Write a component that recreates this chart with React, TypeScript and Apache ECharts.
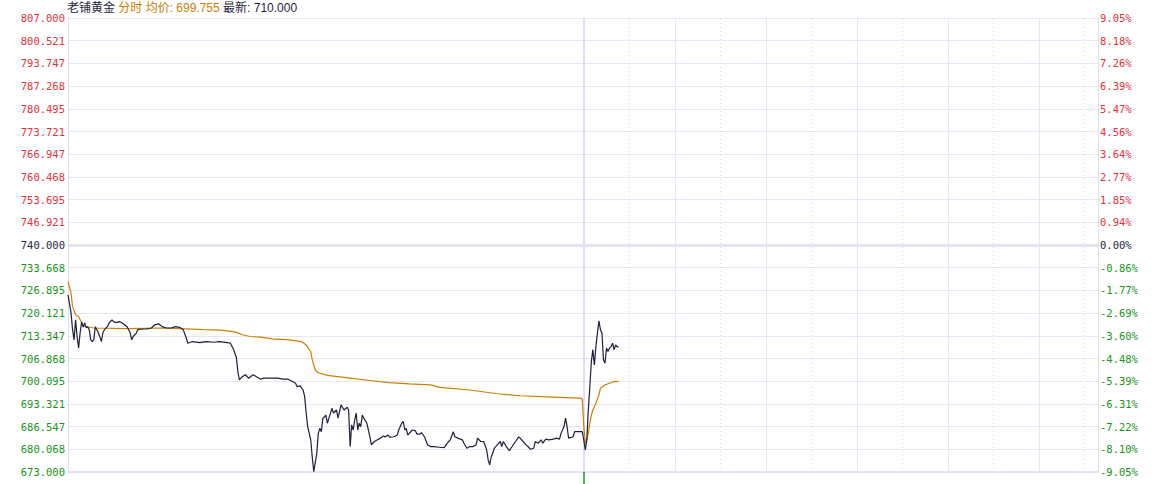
import React, { useEffect, useRef } from "react";
import * as echarts from "echarts";

// ---- header text ----
const stockName = "老铺黄金";
const modeText = "分时";
const avgPriceText = "699.755";
const lastPriceText = "710.000";

// ---- axis labels (top -> bottom) ----
const priceLabels = [
  "807.000", "800.521", "793.747", "787.268", "780.495", "773.721", "766.947",
  "760.468", "753.695", "746.921", "740.000", "733.668", "726.895", "720.121",
  "713.347", "706.868", "700.095", "693.321", "686.547", "680.068", "673.000",
];
const pctLabels = [
  "9.05%", "8.18%", "7.26%", "6.39%", "5.47%", "4.56%", "3.64%", "2.77%",
  "1.85%", "0.94%", "0.00%", "-0.86%", "-1.77%", "-2.69%", "-3.60%", "-4.48%",
  "-5.39%", "-6.31%", "-7.22%", "-8.10%", "-9.05%",
];
const priceMin = 673;
const priceMax = 807;
const prevClose = 740;

// ---- time slots (two sessions, minutes) ----
const slotCount = 680;
const dayBreakSlot = 340;
const solidGridSlots = [400, 460, 520, 580, 640];
const dottedGridSlots = [370, 430, 490, 550, 610, 670];

// ---- price line (slot, price) ----
const priceSlots = [
  0, 2, 3, 4, 5, 6, 7, 8, 9, 10, 11, 12, 13, 14, 15, 16, 17, 18, 20, 21, 22, 23, 24, 26, 27, 29, 30, 32, 34, 36,
  39, 40, 41, 42, 43, 45, 46, 49, 52, 55, 57, 60, 62, 65, 68, 71, 74, 76, 78, 79, 82, 87, 91, 96, 100, 105, 107, 109, 111, 112,
  113, 115, 117, 119, 122, 124, 127, 129, 133, 138, 142, 145, 148, 150, 151, 153, 155, 156, 157, 158, 160, 161, 162, 164, 165, 166, 167, 168, 169, 170,
  171, 172, 174, 175, 177, 178, 180, 182, 184, 185, 186, 187, 188, 189, 190, 191, 192, 193, 194, 195, 197, 198, 199, 200, 202, 204, 206, 208, 209, 211,
  212, 215, 217, 218, 220, 221, 222, 223, 224, 227, 229, 230, 232, 233, 235, 237, 239, 241, 245, 248, 250, 251, 252, 254, 255, 257, 260, 261, 263, 265,
  267, 269, 270, 272, 274, 276, 277, 278, 279, 280, 281, 283, 285, 286, 287, 289, 291, 292, 295, 297, 298, 300, 302, 305, 307, 308, 310, 312, 313, 315,
  317, 320, 322, 324, 325, 327, 328, 329, 330, 333, 334, 336, 339, 340, 341, 342, 343, 344, 345, 346, 347, 348, 349, 350, 351, 352, 353, 354, 355, 356,
  357, 358, 359, 360, 361, 362, 363,
];
const priceValues = [
  725.3, 720.0, 715.0, 712.0, 717.9, 712.9, 709.6, 714.1, 717.3, 715.8, 717.0, 715.6, 715.9, 715.0, 712.0, 711.5, 712.0, 715.9, 714.1, 712.9, 711.5, 714.1, 715.0, 715.9, 716.9, 717.9, 717.4, 717.1, 717.4, 716.9,
  715.9, 715.0, 714.1, 712.0, 713.0, 714.0, 715.0, 715.2, 715.2, 715.5, 716.4, 716.7, 715.9, 715.5, 715.5, 715.9, 715.6, 715.0, 712.5, 711.0, 711.5, 711.2, 711.5, 711.3, 711.5, 711.2, 711.0, 709.3, 706.8, 702.5,
  700.2, 701.2, 701.7, 700.7, 701.7, 701.2, 700.4, 700.7, 700.7, 700.7, 700.4, 700.4, 699.7, 699.2, 698.2, 698.4, 697.2, 695.3, 690.4, 686.4, 682.5, 677.5, 673.1, 678.5, 684.4, 685.9, 684.9, 688.9, 689.2, 689.8,
  687.4, 688.9, 691.8, 690.4, 691.3, 688.9, 692.8, 691.3, 692.1, 691.3, 680.5, 686.9, 685.4, 688.4, 690.4, 685.4, 687.4, 686.4, 689.8, 688.9, 687.4, 685.4, 683.4, 681.0, 682.0, 682.5, 683.0, 683.6, 683.3, 683.9,
  683.3, 683.4, 683.9, 685.4, 687.4, 687.9, 685.4, 685.9, 683.9, 685.4, 685.2, 684.2, 684.2, 684.6, 683.4, 681.0, 680.5, 680.5, 680.3, 680.2, 681.5, 682.0, 682.5, 684.9, 683.4, 683.0, 682.5, 681.5, 680.0, 680.5,
  680.5, 681.0, 683.0, 682.0, 682.0, 679.5, 676.5, 675.1, 677.5, 678.5, 680.0, 681.0, 682.0, 680.5, 682.0, 680.5, 679.3, 680.0, 682.0, 683.3, 683.0, 682.0, 681.0, 679.7, 680.0, 682.0, 681.5, 682.5, 681.5, 682.7,
  682.5, 682.7, 683.0, 682.7, 684.4, 686.4, 688.9, 686.4, 683.0, 683.4, 684.9, 684.9, 684.9, 682.5, 679.5, 682.5, 691.3, 698.2, 705.6, 709.1, 704.6, 710.0, 714.0, 717.6, 715.0, 714.0, 706.1, 705.1, 709.6, 708.6,
  709.6, 710.0, 711.0, 709.1, 710.5, 709.9, 710.0,
];

// ---- average price line (slot, price) ----
const avgSlots = [
  0, 2, 3, 5, 7, 10, 17, 39, 61, 78, 89, 100, 108, 111, 115, 120, 127, 135, 146, 154,
  157, 160, 161, 163, 165, 171, 186, 199, 212, 225, 239, 245, 265, 283, 298, 320, 338, 339, 340, 341,
  342, 343, 344, 345, 346, 348, 350, 351, 354, 357, 360, 363,
];
const avgValues = [
  729.2, 725.8, 721.8, 719.4, 718.9, 716.1, 715.5, 715.3, 715.5, 715.25, 715.0, 714.9, 714.5, 714.2, 713.5, 713.0, 712.8, 712.3, 712.0, 711.5,
  710.5, 708.5, 706.1, 703.1, 702.3, 701.5, 700.7, 700.0, 699.4, 699.0, 698.7, 698.0, 697.2, 696.1, 695.5, 695.1, 694.8, 694.6, 686.6, 681.5,
  682.5, 684.4, 687.4, 689.8, 691.3, 693.3, 695.8, 697.7, 698.7, 699.2, 699.7, 699.755,
];

const MONO = "'DejaVu Sans Mono', 'Noto Sans CJK SC', monospace";
const TITLE_FONT = "'Liberation Sans', 'Noto Sans CJK SC', sans-serif";
const RED = "#e8313a";
const GREEN = "#16951a";
const DARK = "#1e1e3c";
const ORANGE = "#c98000";
const GRID = "#e8e6f4";

function labelColor(idxFromTop: number) {
  if (idxFromTop < 10) return RED;
  if (idxFromTop === 10) return DARK;
  return GREEN;
}

export default function App() {
  const ref = useRef<HTMLDivElement>(null);

  useEffect(() => {
    document.body.style.margin = "0";
    if (!ref.current) return;
    const chart = echarts.init(ref.current, undefined, { renderer: "svg" });

    const priceData = priceSlots.map((s, i) => [s, priceValues[i]]);
    const avgData = avgSlots.map((s, i) => [s, avgValues[i]]);

    const gridLines: any[] = [
      { xAxis: dayBreakSlot, lineStyle: { color: "#e2def2", width: 2, type: "solid" } },
      ...solidGridSlots.map((s) => ({ xAxis: s, lineStyle: { color: GRID, width: 1, type: "solid" } })),
      ...dottedGridSlots.map((s) => ({ xAxis: s, lineStyle: { color: "#dcdce2", width: 1, type: [1, 3] } })),
      { yAxis: prevClose, lineStyle: { color: "#e4e2f3", width: 3, type: "solid" } },
    ];

    const option: any = {
      animation: false,
      title: {
        text: `{n|${stockName}} {o|${modeText} 均价: ${avgPriceText}} {n|最新: ${lastPriceText}}`,
        left: 67,
        top: 1,
        padding: 0,
        textStyle: {
          fontWeight: "normal",
          fontSize: 12,
          rich: {
            n: { color: DARK, fontSize: 12, fontFamily: TITLE_FONT, fontWeight: "normal", lineHeight: 14 },
            o: { color: ORANGE, fontSize: 12, fontFamily: TITLE_FONT, fontWeight: "normal", lineHeight: 14 },
          },
        },
      },
      grid: { left: 68, right: 62, top: 18, bottom: 12, outerBoundsMode: "none", containLabel: false },
      xAxis: {
        type: "value",
        min: 0,
        max: slotCount - 1,
        axisLine: { show: true, onZero: false, lineStyle: { color: "#e4e2f3", width: 2 } },
        axisTick: { show: true, customValues: [dayBreakSlot], length: 12, lineStyle: { color: GREEN, width: 1.5 } },
        axisLabel: { show: false },
        splitLine: { show: false },
      },
      yAxis: [
        { type: "value", min: priceMin, max: priceMax, show: false, position: "left", splitLine: { show: false } },
        {
          type: "value",
          min: 0,
          max: 20,
          interval: 1,
          position: "left",
          axisLine: { show: true, lineStyle: { color: "#e0ddef", width: 1 } },
          axisTick: { show: false },
          splitLine: { show: true, lineStyle: { color: GRID, width: 1 } },
          axisLabel: {
            margin: 3,
            fontSize: 10.5,
            fontFamily: MONO,
            formatter: (v: number) => priceLabels[20 - Math.round(v)],
            color: (v: any) => labelColor(20 - Math.round(Number(v))),
          },
        },
        {
          type: "value",
          min: 0,
          max: 20,
          interval: 1,
          position: "right",
          axisLine: { show: true, lineStyle: { color: "#e0ddef", width: 1 } },
          axisTick: { show: false },
          splitLine: { show: false },
          axisLabel: {
            margin: 2,
            fontSize: 10.5,
            fontFamily: MONO,
            formatter: (v: number) => pctLabels[20 - Math.round(v)],
            color: (v: any) => labelColor(20 - Math.round(Number(v))),
          },
        },
      ],
      series: [
        {
          type: "line",
          name: "price",
          yAxisIndex: 0,
          data: priceData,
          showSymbol: false,
          symbol: "none",
          lineStyle: { color: DARK, width: 1.2 },
          z: 3,
          markLine: {
            z: 1,
            silent: true,
            symbol: "none",
            label: { show: false },
            emphasis: { disabled: true },
            data: gridLines,
          },
        },
        {
          type: "line",
          name: "avg",
          yAxisIndex: 0,
          data: avgData,
          showSymbol: false,
          symbol: "none",
          lineStyle: { color: ORANGE, width: 1.2 },
          z: 2,
        },
      ],
    };

    chart.setOption(option);
    return () => chart.dispose();
  }, []);

  return <div ref={ref} style={{ width: 1160, height: 484 }} />;
}
